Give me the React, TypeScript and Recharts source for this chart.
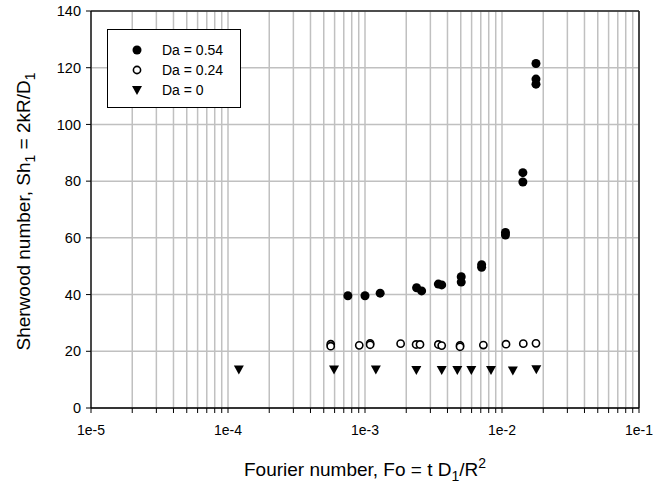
import React from 'react';
import { ScatterChart, Scatter, XAxis, YAxis, CartesianGrid, Legend, Label, ReferenceLine } from 'recharts';

// Fourier number / Sherwood number
const fo054 = [7.5e-4, 1.0e-3, 1.29e-3, 2.38e-3, 2.59e-3, 3.43e-3, 3.63e-3, 5.04e-3, 5.04e-3, 7.1e-3, 7.1e-3, 1.06e-2, 1.06e-2, 1.42e-2, 1.42e-2, 1.77e-2, 1.77e-2, 1.77e-2];
const sh054 = [39.6, 39.6, 40.5, 42.4, 41.3, 43.7, 43.4, 46.3, 44.4, 50.5, 49.6, 61.9, 61.0, 83.0, 79.7, 121.5, 116.0, 114.2];

const fo024 = [5.62e-4, 5.62e-4, 9.08e-4, 1.09e-3, 1.09e-3, 1.82e-3, 2.36e-3, 2.52e-3, 3.43e-3, 3.63e-3, 4.94e-3, 4.94e-3, 7.31e-3, 1.07e-2, 1.43e-2, 1.77e-2];
const sh024 = [22.5, 21.8, 22.1, 22.8, 22.3, 22.7, 22.4, 22.4, 22.4, 22.0, 22.1, 21.6, 22.2, 22.5, 22.7, 22.8];

const fo0 = [1.2e-4, 5.94e-4, 1.2e-3, 2.37e-3, 3.63e-3, 4.72e-3, 5.97e-3, 8.31e-3, 1.2e-2, 1.78e-2];
const sh0 = [13.6, 13.6, 13.6, 13.4, 13.4, 13.4, 13.4, 13.4, 13.2, 13.7];

const decades = [1e-5, 1e-4, 1e-3, 1e-2, 1e-1];
const decadeLabels = ['1e-5', '1e-4', '1e-3', '1e-2', '1e-1'];
const minorSteps = [1, 2, 3, 4, 5, 6, 7, 8, 9];
const yTicks = [0, 20, 40, 60, 80, 100, 120, 140];

const seriesNames = ['Da = 0.54', 'Da = 0.24', 'Da = 0'];

const xTicks = decades.flatMap((d, i) => (i === decades.length - 1 ? [d] : minorSteps.map((m) => m * d)));

const toPoints = (xs: number[], ys: number[]) => xs.map((fo, i) => ({ fo, sh: ys[i] }));

const FONT = '"Liberation Sans", Arial, sans-serif';
const GRID = '#c0c0c0';

const FilledDot = (p: any) => <circle cx={p.cx} cy={p.cy} r={4.5} fill="#000" />;
const OpenDot = (p: any) => <circle cx={p.cx} cy={p.cy} r={3.6} fill="#fff" stroke="#000" strokeWidth={1.6} />;
const DownTri = (p: any) => (
  <polygon points={`${p.cx - 5},${p.cy - 4} ${p.cx + 5},${p.cy - 4} ${p.cx},${p.cy + 5}`} fill="#000" />
);

const fmtX = (v: number) => {
  const i = decades.findIndex((d) => Math.abs(v - d) / d < 1e-6);
  return i >= 0 ? decadeLabels[i] : '';
};

const YTitle = (props: any) => {
  const vb = props.viewBox || { y: 11, height: 397 };
  const cx = 30;
  const cy = vb.y + vb.height / 2 + 2;
  return (
    <text x={cx} y={cy} transform={`rotate(-90 ${cx} ${cy})`} textAnchor="middle" fontFamily={FONT} fontSize={19} fill="#000">
      Sherwood number, Sh<tspan dy={5} fontSize={14}>1</tspan>
      <tspan dy={-5}> = 2kR/D</tspan>
      <tspan dy={5} fontSize={14}>1</tspan>
    </text>
  );
};

const XTitle = (props: any) => {
  const vb = props.viewBox || { x: 91, width: 548 };
  const cx = vb.x + vb.width / 2;
  return (
    <text x={cx} y={476} textAnchor="middle" fontFamily={FONT} fontSize={19} fill="#000">
      Fourier number, Fo = t D<tspan dy={5} fontSize={14}>1</tspan>
      <tspan dy={-5}>/R</tspan>
      <tspan dy={-8} fontSize={14}>2</tspan>
    </text>
  );
};

const legendMarkers = [
  <circle cx={8} cy={8} r={4.5} fill="#000" />,
  <circle cx={8} cy={8} r={3.6} fill="#fff" stroke="#000" strokeWidth={1.6} />,
  <polygon points="3,4 13,4 8,13" fill="#000" />,
];

const renderLegend = () => (
  <div
    style={{
      width: 132,
      height: 67,
      border: '1px solid #000',
      background: '#fff',
      boxSizing: 'content-box',
      paddingTop: 10,
      fontFamily: FONT,
      fontSize: 14,
    }}
  >
    {seriesNames.map((n, i) => (
      <div key={n} style={{ display: 'flex', alignItems: 'center', height: 20 }}>
        <svg width={16} height={16} style={{ marginLeft: 21, marginRight: 17 }}>
          {legendMarkers[i]}
        </svg>
        <span>{n}</span>
      </div>
    ))}
  </div>
);

export default function App() {
  return (
    <div style={{ position: 'absolute', left: 0, top: 0, background: '#fff' }}>
      <ScatterChart width={668} height={485} margin={{ top: 11, right: 29, bottom: 0, left: 0 }}>
        <CartesianGrid xAxisId="fo" yAxisId="sh" stroke={GRID} strokeWidth={1.5} />
        <XAxis
          xAxisId="fo"
          type="number"
          dataKey="fo"
          scale="log"
          domain={[1e-5, 1e-1]}
          allowDataOverflow
          ticks={xTicks}
          interval={0}
          tickFormatter={fmtX}
          height={77}
          tickSize={5}
          tickMargin={12}
          axisLine={{ stroke: '#000', strokeWidth: 1.3 }}
          tickLine={{ stroke: '#000' }}
          tick={{ fill: '#000', fontFamily: FONT, fontSize: 14 }}
        >
          <Label content={XTitle} />
        </XAxis>
        <YAxis
          yAxisId="sh"
          type="number"
          dataKey="sh"
          domain={[0, 140]}
          ticks={yTicks}
          interval={0}
          width={91}
          tickSize={5}
          tickMargin={5}
          axisLine={{ stroke: '#000', strokeWidth: 1.3 }}
          tickLine={{ stroke: '#000' }}
          tick={{ fill: '#000', fontFamily: FONT, fontSize: 14.5 }}
        >
          <Label content={YTitle} />
        </YAxis>
        <ReferenceLine xAxisId="fo" yAxisId="sh" y={140} stroke="#222" strokeWidth={1.6} ifOverflow="extendDomain" />
        <ReferenceLine xAxisId="fo" yAxisId="sh" x={1e-1} stroke="#222" strokeWidth={1.6} ifOverflow="extendDomain" />
        <Legend
          layout="vertical"
          align="center"
          verticalAlign="middle"
          content={renderLegend}
          wrapperStyle={{ left: 107, top: 29, width: 134, height: 79 }}
        />
        <Scatter xAxisId="fo" yAxisId="sh" name={seriesNames[0]} data={toPoints(fo054, sh054)} shape={FilledDot} isAnimationActive={false} />
        <Scatter xAxisId="fo" yAxisId="sh" name={seriesNames[1]} data={toPoints(fo024, sh024)} shape={OpenDot} isAnimationActive={false} />
        <Scatter xAxisId="fo" yAxisId="sh" name={seriesNames[2]} data={toPoints(fo0, sh0)} shape={DownTri} isAnimationActive={false} />
      </ScatterChart>
    </div>
  );
}
